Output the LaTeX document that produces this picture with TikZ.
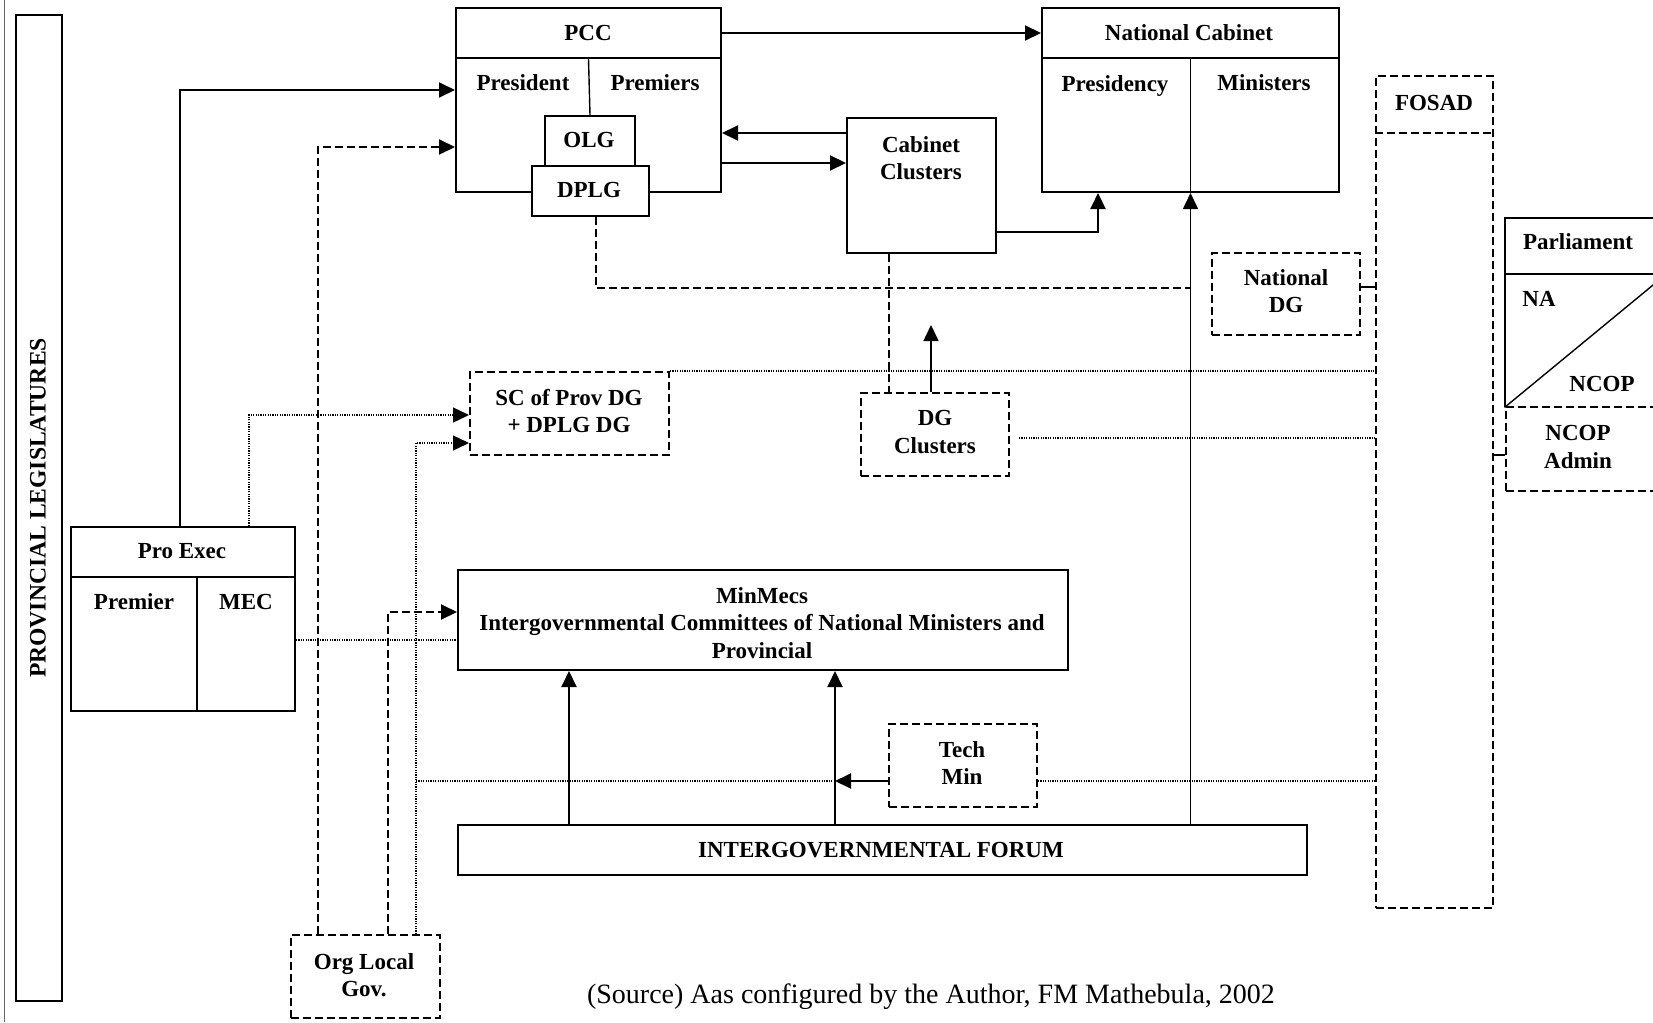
\documentclass[tikz,border=0pt]{standalone}
\usepackage{fontspec}
\setmainfont{Liberation Serif}
\usepackage{tikz}
\usetikzlibrary{arrows.meta}
\usetikzlibrary{positioning}
\usetikzlibrary{fit}
\usetikzlibrary{calc}
\tikzstyle{blk}=[draw,line width=1pt,inner sep=0pt]
\tikzstyle{dblk}=[blk,dash pattern=on 4pt off 2pt]
\tikzstyle{lbl}=[inner sep=0pt,align=center]
\tikzstyle{link}=[line width=1pt,-{Triangle[length=8pt,width=7.5pt]}]
\tikzstyle{dlink}=[line width=1pt,dash pattern=on 4pt off 2pt]
\tikzstyle{dotlink}=[line width=0.7pt,dash pattern=on 0.6pt off 0.6pt]

\begin{document}
\begin{tikzpicture}[x=0.5pt,y=-0.5pt,font=\fontsize{11.5}{13.8}\selectfont\bfseries]
\useasboundingbox (0,0) rectangle (1653,1022);
\clip (0,0) rectangle (1653,1022);
\draw[line width=0.6pt,black!60] (4.5,0) -- (4.5,1022);

\node[blk, fit={(16,15) (62,1001)}] (provleg) {};
\node[lbl, rotate=90, font=\fontsize{11.8}{14}\selectfont\bfseries] (provlegtxt) at (38,508) {PROVINCIAL LEGISLATURES};

% national level
\node[blk, fit={(456,8) (721,58)}] (pcchead) {};
\node[blk, fit={(456,58) (721,192)}] (pcc) {};
\node[lbl] (pcctxt) at (588,33) {PCC};
\node[lbl] (pres) at (523,83) {President};
\node[lbl] (prem) at (655,83) {Premiers};
\node[blk, fill=white, fit={(545,116) (635,166)}] (olg) {};
\node[blk, fill=white, fit={(532,166) (649,216)}] (dplg) {};
\node[lbl] (olgtxt) at (589,140) {OLG};
\node[lbl] (dplgtxt) at (589,190) {DPLG};
\draw[line width=0.7pt] (pcchead.south) -- (olg.north);

\node[blk, fit={(1042,8) (1339,58)}] (nchead) {};
\node[blk, fit={(1042,58) (1339,192)}] (nc) {};
\node[lbl] (nctxt) at (1189,33) {National Cabinet};
\node[lbl] (presy) at (1115,86) {Presidency};
\node[lbl] (mins) at (1264,83) {Ministers};
\draw[line width=0.7pt] (nchead.south) -- (nc.south);

\node[blk, fit={(847,118) (996,253)}] (cabcl) {};
\node[lbl] (cabcltxt) at (921,158) {Cabinet\\Clusters};

\node[dblk, fit={(1376,76) (1493,908)}] (fosad) {};
\draw[dlink] (fosad.west |- 0,133) -- (fosad.east |- 0,133);
\node[lbl] (fosadtxt) at (1434,103) {FOSAD};
\node[dblk, fit={(1212,253) (1360,335)}] (natdg) {};
\node[lbl] (natdgtxt) at (1286,291) {National\\DG};

\node[inner sep=0pt, fit={(1505,218) (1666,407)}] (parl) {};
\draw[line width=1pt] (parl.south west) |- (parl.north east);
\draw[line width=1pt] (parl.west |- 0,274) -- (parl.east |- 0,274);
\draw[line width=0.7pt] (parl.south west) -- (parl.east |- 0,274);
\node[lbl] (parltxt) at (1578,242) {Parliament};
\node[lbl] (na) at (1539,299) {NA};
\node[lbl] (ncop) at (1602,384) {NCOP};
\node[dblk, fit={(1506,407) (1666,491)}] (ncopadm) {};
\node[lbl] (ncopadmtxt) at (1578,447) {NCOP\\Admin};

% provincial level
\node[blk, fit={(71,527) (295,577)}] (prohead) {};
\node[blk, fit={(71,577) (295,711)}] (pro) {};
\node[lbl] (protxt) at (182,551) {Pro Exec};
\node[lbl] (premier) at (134,602) {Premier};
\node[lbl] (mec) at (246,602) {MEC};
\draw[line width=1pt] (prohead.south -| 197,0) -- (pro.south -| 197,0);

\node[dblk, fit={(470,372) (669,455)}] (scdg) {};
\node[lbl] (scdgtxt) at (569,411) {SC of Prov DG\\+ DPLG DG};
\node[dblk, fit={(861,393) (1009,476)}] (dgcl) {};
\node[lbl] (dgcltxt) at (935,432) {DG\\Clusters};
\node[blk, fit={(458,570) (1068,670)}] (minmec) {};
\node[lbl] (minmectxt) at (762,623) {MinMecs\\Intergovernmental Committees of National Ministers and\\Provincial};
\node[dblk, fit={(889,724) (1037,807)}] (techmin) {};
\node[lbl] (techmintxt) at (962,763) {Tech\\Min};
\node[blk, fit={(458,825) (1307,875)}] (igf) {};
\node[lbl] (igftxt) at (881,850) {INTERGOVERNMENTAL FORUM};
\node[dblk, fit={(291,935) (440,1018)}] (orgl) {};
\node[lbl] (orgltxt) at (364,975) {Org Local\\Gov.};
\node[lbl, font=\fontsize{14}{16}\selectfont\mdseries] (src) at (931,997) {(Source) Aas configured by the Author, FM Mathebula, 2002};

\coordinate (tmjoin) at (835,781);
\coordinate (dgup) at (931,325);

\draw[link] (pcchead.east) -- (nchead.west);
\draw[link] (cabcl.west |- 0,133) -- (pcc.east |- 0,133);
\draw[link] (pcc.east |- 0,163) -- (cabcl.west |- 0,163);
\draw[link] (cabcl.east |- 0,232) -| (nc.south -| 1098,0);
\draw[link, line width=0.8pt] (igf.north -| nc.south) -- (nc.south);
\draw[link] (prohead.north -| 180,0) |- (pcc.west |- 0,90);
\draw[link, dlink] (orgl.north -| 318,0) |- (pcc.west |- 0,147);
\draw[link, dlink] (orgl.north -| 388,0) |- (minmec.west |- 0,612);
\draw[link] (igf.north -| 569,0) -- (minmec.south -| 569,0);
\draw[link] (igf.north -| tmjoin) -- (minmec.south -| tmjoin);
\draw[link] (techmin.west |- tmjoin) -- (tmjoin);
\draw[link, line width=0.8pt] (dgcl.north -| dgup) -- (dgup);
\draw[dlink] (dplg.south -| 596,0) |- (nc.south |- 0,288);
\draw[dlink, line width=0.7pt] (cabcl.south -| 889,0) -- (dgcl.north -| 889,0);
\draw[line width=1pt] (natdg.east |- 0,287) -- (fosad.west |- 0,287);
\draw[line width=1pt] (fosad.east |- 0,455) -- (ncopadm.west |- 0,455);

%\draw[dotlink] (scdg.east) -- (fosad.west |- scdg.east);
\draw[dotlink] (scdg.north east) -- (fosad.west |- scdg.north east);
\draw[dotlink] ($(dgcl.east |- 0,438)+(9,0)$) -- (fosad.west |- 0,438);
\draw[dotlink] (techmin.east |- tmjoin) -- (fosad.west |- tmjoin);
\draw[dotlink] (tmjoin -| 416,0) -- (tmjoin);
\draw[link, dotlink] (orgl.north -| 416,0) |- (scdg.west |- 0,443);
\draw[link, dotlink] (prohead.north -| 249,0) |- (scdg.west |- 0,415);
\draw[dotlink] (pro.east |- 0,640) -- (minmec.west |- 0,640);
\end{tikzpicture}
\end{document}
